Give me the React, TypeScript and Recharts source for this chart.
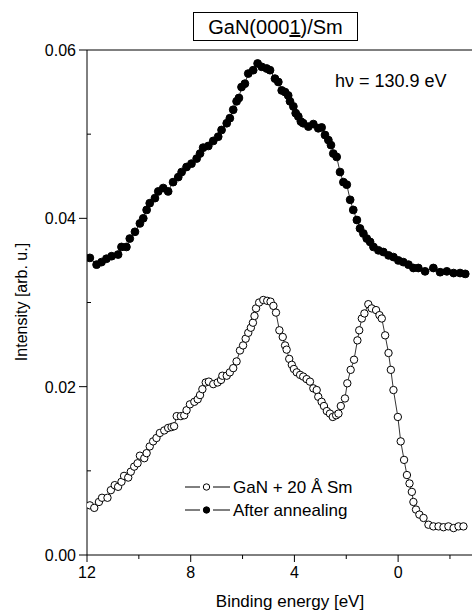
import React from "react";
import { LineChart, Line, XAxis, YAxis, ReferenceLine } from "recharts";

// binding energy [eV] / intensity [arb. u.]
const annealedEnergy = [
  11.89, 11.63, 11.44, 11.25, 11.05, 10.8, 10.67, 10.48, 10.35, 10.15,
  9.96, 9.83, 9.7, 9.58, 9.38, 9.25, 9.06, 8.87, 8.68, 8.48,
  8.35, 8.16, 7.97, 7.77, 7.64, 7.52, 7.32, 7.13, 6.94, 6.81,
  6.61, 6.49, 6.36, 6.23, 6.14, 6.04, 5.91, 5.78, 5.59, 5.42,
  5.26, 5.07, 4.94, 4.75, 4.62, 4.49, 4.36, 4.24, 4.17, 4.04,
  3.95, 3.85, 3.75, 3.66, 3.46, 3.27, 3.08, 2.95, 2.82, 2.69,
  2.59, 2.5, 2.37, 2.24, 2.11, 1.98, 1.85, 1.73, 1.59, 1.47,
  1.34, 1.21, 1.08, 0.95, 0.76, 0.57, 0.37, 0.18, -0.01, -0.2,
  -0.4, -0.59, -0.78, -1.04, -1.36, -1.62, -1.88, -2.14, -2.39, -2.59,
];
const annealedIntensity = [
  0.0353, 0.0345, 0.0348, 0.0352, 0.0355, 0.0357, 0.0366, 0.0366, 0.0376, 0.0384,
  0.0394, 0.04, 0.041, 0.0418, 0.0424, 0.0432, 0.0436, 0.0432, 0.0443, 0.0449,
  0.0455, 0.0461, 0.0465, 0.0471, 0.0477, 0.0484, 0.0486, 0.0492, 0.0497, 0.0505,
  0.0513, 0.0519, 0.0529, 0.0539, 0.0543, 0.0556, 0.056, 0.0572, 0.0576, 0.0584,
  0.058, 0.0578, 0.0576, 0.0566, 0.0562, 0.0552, 0.055, 0.0546, 0.0539, 0.0533,
  0.0525, 0.0521, 0.0515, 0.0513, 0.0509, 0.0512, 0.0507, 0.0508, 0.0499, 0.0493,
  0.0487, 0.0477, 0.0473, 0.0455, 0.0443, 0.044, 0.0422, 0.041, 0.0398, 0.0388,
  0.0382, 0.0376, 0.0372, 0.0366, 0.0362, 0.036, 0.0356, 0.0354, 0.035, 0.0348,
  0.0345, 0.0341, 0.0341, 0.0337, 0.0341, 0.0336, 0.0337, 0.0335, 0.0335, 0.0334,
];

const smEnergy = [
  11.89, 11.72, 11.54, 11.42, 11.21, 11.08, 10.93, 10.8, 10.67, 10.57,
  10.41, 10.31, 10.18, 10.05, 9.96, 9.79, 9.7, 9.58, 9.45, 9.32,
  9.19, 9.02, 8.87, 8.74, 8.64, 8.54, 8.38, 8.25, 8.16, 8.03,
  7.86, 7.73, 7.64, 7.55, 7.42, 7.3, 7.13, 6.96, 6.83, 6.78,
  6.61, 6.49, 6.36, 6.23, 6.1, 5.98, 5.88, 5.78, 5.68, 5.6,
  5.54, 5.48, 5.36, 5.2, 5.05, 4.92, 4.81, 4.71, 4.58, 4.45,
  4.36, 4.3, 4.2, 4.1, 4.02, 3.91, 3.78, 3.66, 3.53, 3.4,
  3.27, 3.14, 3.08, 2.95, 2.86, 2.75, 2.63, 2.52, 2.39, 2.3,
  2.21, 2.05, 1.96, 1.83, 1.7, 1.57, 1.5, 1.4, 1.3, 1.15,
  1.02, 0.85, 0.72, 0.63, 0.5, 0.37, 0.28, 0.18, 0.01, -0.1,
  -0.23, -0.34, -0.44, -0.53, -0.59, -0.69, -0.82, -0.98, -1.17, -1.36,
  -1.56, -1.75, -1.94, -2.14, -2.33, -2.52,
];
const smIntensity = [
  0.0059, 0.0056, 0.0063, 0.0068, 0.0068, 0.0077, 0.0083, 0.0081, 0.0087, 0.0094,
  0.0092, 0.0099, 0.0105, 0.0109, 0.0118, 0.0115, 0.0121, 0.0129, 0.0135, 0.0139,
  0.0145, 0.0148, 0.0151, 0.0152, 0.0153, 0.0165, 0.0165, 0.0166, 0.0172, 0.0179,
  0.0182, 0.0185, 0.019, 0.0197, 0.0205, 0.0206, 0.0203, 0.0205, 0.0208, 0.0213,
  0.0213, 0.0217, 0.0222, 0.023, 0.0243, 0.0249, 0.0257, 0.0264, 0.027, 0.0276,
  0.0284, 0.0293, 0.03, 0.0303, 0.0302, 0.0301, 0.0296, 0.0288, 0.0267, 0.0259,
  0.0249, 0.0244, 0.0233, 0.0226, 0.0221, 0.0217, 0.0214, 0.0212, 0.0209, 0.0206,
  0.0198, 0.0196, 0.0188, 0.0182, 0.0177, 0.0171, 0.0168, 0.0164, 0.0166, 0.0168,
  0.0177, 0.0186, 0.0204, 0.022, 0.0232, 0.0255, 0.0267, 0.0281, 0.0287, 0.0298,
  0.0293, 0.0291, 0.0285, 0.0281, 0.0261, 0.024, 0.022, 0.0196, 0.0164, 0.0135,
  0.0113, 0.0095, 0.0085, 0.0075, 0.0063, 0.0054, 0.0048, 0.0044, 0.0036, 0.0034,
  0.0034, 0.0033, 0.0034, 0.0032, 0.0034, 0.0034,
];

const xTicks = [12, 10, 8, 6, 4, 2, 0, -2];
const yTicks = [0, 0.01, 0.02, 0.03, 0.04, 0.05, 0.06];

const annealedData = annealedEnergy.map((e, i) => ({ e, v: annealedIntensity[i] }));
const smData = smEnergy.map((e, i) => ({ e, v: smIntensity[i] }));

const FONT = "'Liberation Sans', Arial, sans-serif";

const XTick = (props: any) => {
  const { x, y, payload } = props;
  const major = payload.value % 4 === 0;
  return (
    <g>
      <line x1={x} x2={x} y1={y} y2={y + (major ? 7 : 4)} stroke="#000" />
      {major && (
        <text x={x} y={y + 23} textAnchor="middle" fontSize={16} fill="#000">
          {payload.value}
        </text>
      )}
    </g>
  );
};

const YTick = (props: any) => {
  const { x, y, payload } = props;
  const major = Math.round(payload.value * 100) % 2 === 0;
  return (
    <g>
      {major ? (
        <line x1={x - 8} x2={x} y1={y} y2={y} stroke="#000" />
      ) : (
        <line x1={x} x2={x + 4} y1={y} y2={y} stroke="#000" />
      )}
      {major && (
        <text x={x - 11} y={y + 6} textAnchor="end" fontSize={16} fill="#000">
          {payload.value.toFixed(2)}
        </text>
      )}
    </g>
  );
};

export default function App() {
  return (
    <div
      style={{
        position: "absolute",
        left: 0,
        top: 0,
        width: 473,
        height: 611,
        background: "#fff",
        fontFamily: FONT,
      }}
    >
      <LineChart width={473} height={611} margin={{ top: 50, right: 1, bottom: 0, left: 0 }}>
        <XAxis
          dataKey="e"
          type="number"
          domain={[-2.85, 12]}
          reversed
          allowDataOverflow
          ticks={xTicks}
          tick={<XTick />}
          tickSize={0}
          tickMargin={0}
          tickLine={false}
          height={56}
          axisLine={{ stroke: "#000" }}
        />
        <YAxis
          type="number"
          domain={[0, 0.06]}
          allowDataOverflow
          ticks={yTicks}
          tick={<YTick />}
          tickSize={0}
          tickMargin={0}
          tickLine={false}
          width={87}
          axisLine={{ stroke: "#000" }}
        />
        <ReferenceLine y={0.06} stroke="#000" />
        <Line
          data={annealedData}
          dataKey="v"
          stroke="#000"
          strokeWidth={0.8}
          dot={{ r: 3.9, fill: "#000", stroke: "#000", strokeWidth: 1 }}
          isAnimationActive={false}
        />
        <Line
          data={smData}
          dataKey="v"
          stroke="#000"
          strokeWidth={0.8}
          dot={{ r: 3.7, fill: "#fff", stroke: "#000", strokeWidth: 1 }}
          isAnimationActive={false}
        />
      </LineChart>
      <svg
        width={473}
        height={611}
        style={{ position: "absolute", left: 0, top: 0, pointerEvents: "none" }}
      >
        <rect x={193.5} y={12.5} width={164} height={28} fill="#fff" stroke="#000" />
        <text x={275.5} y={34} textAnchor="middle" fontSize={20} fill="#000">
          GaN(000<tspan textDecoration="underline">1</tspan>)/Sm
        </text>
        <text x={335} y={87} fontSize={18} fill="#000">
          hν = 130.9 eV
        </text>
        <line x1={185} x2={200} y1={487} y2={487} stroke="#000" />
        <circle cx={206.5} cy={487} r={3.2} fill="#fff" stroke="#000" />
        <line x1={213} x2={230} y1={487} y2={487} stroke="#000" />
        <text x={233} y={493} fontSize={17} fill="#000">
          GaN + 20 Å Sm
        </text>
        <line x1={185} x2={200} y1={510} y2={510} stroke="#000" />
        <circle cx={206.5} cy={510} r={3.2} fill="#000" stroke="#000" />
        <line x1={213} x2={230} y1={510} y2={510} stroke="#000" />
        <text x={233} y={516} fontSize={17} fill="#000">
          After annealing
        </text>
        <text x={290} y={607} textAnchor="middle" fontSize={17} fill="#000">
          Binding energy [eV]
        </text>
        <text
          x={0}
          y={0}
          transform="translate(27 302) rotate(-90)"
          textAnchor="middle"
          fontSize={16}
          fill="#000"
        >
          Intensity [arb. u.]
        </text>
      </svg>
    </div>
  );
}
